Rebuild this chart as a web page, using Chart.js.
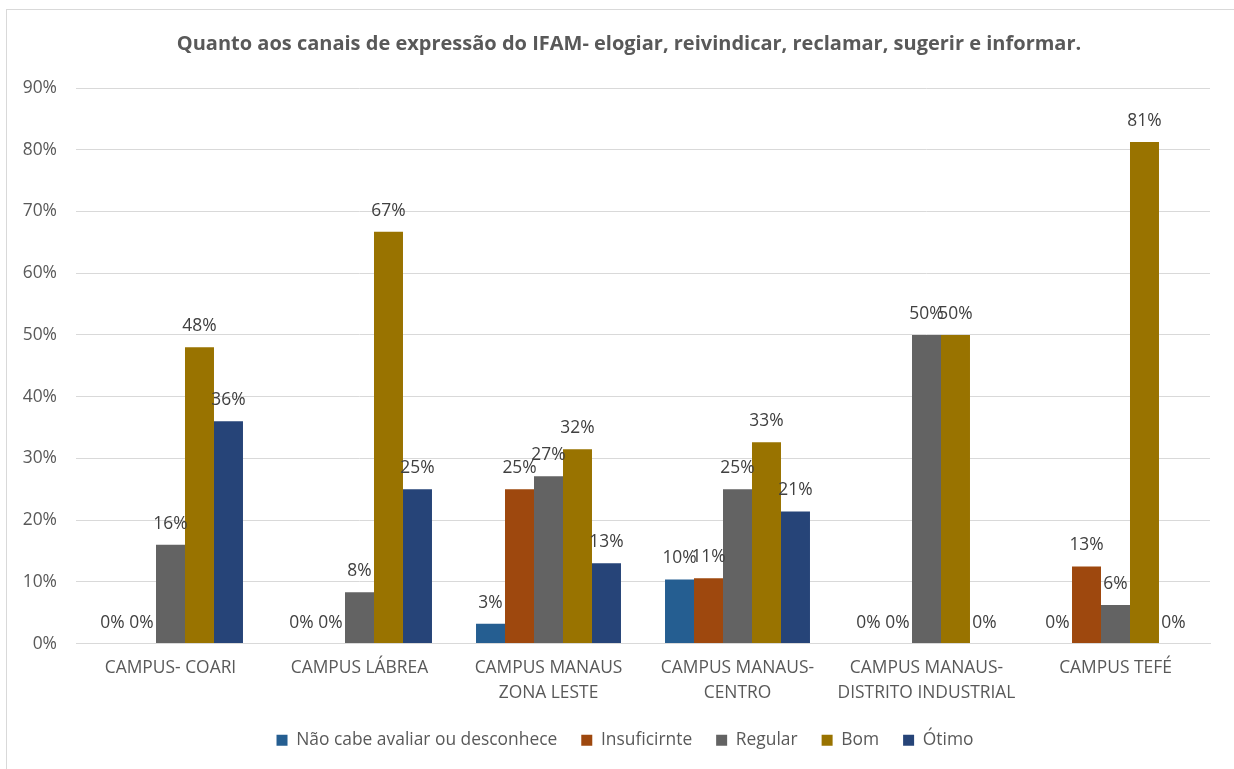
<!DOCTYPE html>
<html>
<head>
<meta charset="utf-8">
<script src="https://cdn.jsdelivr.net/npm/chart.js@4/dist/chart.umd.min.js"></script>
<style>
html,body{margin:0;padding:0;background:#fff;}
#wrap{position:relative;width:1234px;height:769px;}
</style>
</head>
<body>
<div id="wrap"><canvas id="c"></canvas></div>
<script>
const categories = [
  ['CAMPUS- COARI'],
  ['CAMPUS LÁBREA'],
  ['CAMPUS MANAUS', 'ZONA LESTE'],
  ['CAMPUS MANAUS-', 'CENTRO'],
  ['CAMPUS MANAUS-', 'DISTRITO INDUSTRIAL'],
  ['CAMPUS TEFÉ']
];
const seriesNames = ['Não cabe avaliar ou desconhece', 'Insuficirnte', 'Regular', 'Bom', 'Ótimo'];
const naoCabe     = [0, 0, 3.2, 10.4, 0, 0];
const insuficiente = [0, 0, 25, 10.6, 0, 12.5];
const regular     = [16, 8.3, 27.1, 25, 50, 6.25];
const bom         = [48, 66.7, 31.5, 32.6, 50, 81.25];
const otimo       = [36, 25, 13, 21.4, 0, 0];
const yTicks = [0, 10, 20, 30, 40, 50, 60, 70, 80, 90];
const titleText = 'Quanto aos canais de expressão do IFAM- elogiar, reivindicar, reclamar, sugerir e informar.';

const colors = ['#255E91', '#9E480E', '#636363', '#997300', '#264478'];
const seriesValues = [naoCabe, insuficiente, regular, bom, otimo];
const FONT = '"Open Sans", sans-serif';
const FS = 17.4;

const frame = {
  id: 'frame',
  afterLayout(chart) {
    if (chart.titleBlock) chart.titleBlock.left += 38;
    if (chart.legend) chart.legend.left += 30;
  },
  beforeDraw(chart) {
    const ctx = chart.ctx;
    ctx.save();
    ctx.fillStyle = '#fff';
    ctx.fillRect(0, 0, chart.width, chart.height);
    ctx.strokeStyle = '#d9d9d9';
    ctx.lineWidth = 1;
    ctx.strokeRect(6.5, 9.5, 1400, 900);
    ctx.restore();
  }
};

const labels = {
  id: 'labels',
  afterDatasetsDraw(chart) {
    const ctx = chart.ctx;
    ctx.save();
    ctx.font = FS + 'px ' + FONT;
    ctx.fillStyle = '#404040';
    ctx.textAlign = 'center';
    ctx.textBaseline = 'alphabetic';
    chart.data.datasets.forEach((ds, i) => {
      const meta = chart.getDatasetMeta(i);
      meta.data.forEach((el, j) => {
        const v = ds.data[j];
        ctx.fillText(Math.round(v) + '%', el.x, el.y - 16);
      });
    });
    ctx.restore();
  }
};

new Chart(document.getElementById('c'), {
  type: 'bar',
  data: {
    labels: categories,
    datasets: seriesNames.map((n, i) => ({
      label: n,
      data: seriesValues[i],
      backgroundColor: colors[i],
      borderWidth: 0,
      categoryPercentage: 0.767,
      barPercentage: 1.0
    }))
  },
  options: {
    responsive: true,
    maintainAspectRatio: false,
    animation: false,
    layout: { padding: { left: 10, right: 24, top: 0, bottom: 10 } },
    plugins: {
      title: {
        display: true,
        text: titleText,
        color: '#595959',
        font: { family: FONT, size: 20, weight: 'bold', lineHeight: 1.35 },
        padding: { top: 31, bottom: 30 }
      },
      legend: {
        position: 'bottom',
        labels: {
          color: '#595959',
          font: { family: FONT, size: FS },
          boxWidth: 11,
          boxHeight: 11,
          padding: 24
        }
      },
      tooltip: { enabled: false }
    },
    scales: {
      x: {
        afterFit(s) { s.height = 64; },
        grid: { display: false, drawTicks: false },
        border: { color: '#d9d9d9' },
        ticks: {
          color: '#595959',
          font: { family: FONT, size: FS, lineHeight: 25 / FS },
          padding: 12,
          maxRotation: 0,
          autoSkip: false
        }
      },
      y: {
        min: 0,
        max: 90,
        afterFit(s) { s.width = 66; },
        afterBuildTicks(s) { s.ticks = yTicks.map(v => ({ value: v })); },
        grid: { color: '#d9d9d9', drawTicks: false },
        border: { display: false },
        ticks: {
          color: '#595959',
          font: { family: FONT, size: FS },
          padding: 19,
          callback: v => v + '%'
        }
      }
    }
  },
  plugins: [frame, labels]
});
</script>
</body>
</html>
